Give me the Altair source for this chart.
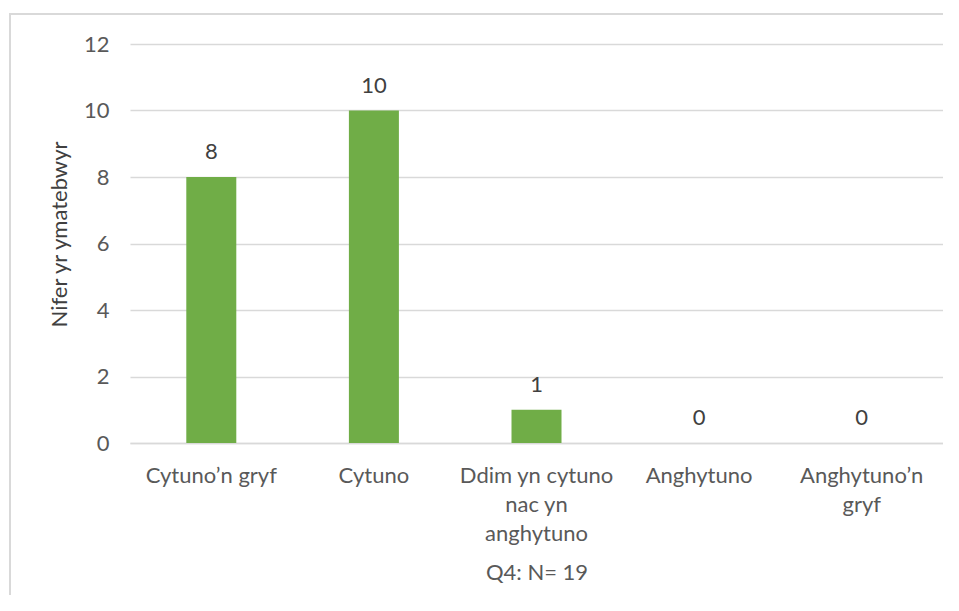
import altair as alt
import pandas as pd

categories = ["Cytuno’n gryf", "Cytuno", "Ddim yn cytuno|nac yn|anghytuno", "Anghytuno", "Anghytuno’n|gryf"]
counts = [8, 10, 1, 0, 0]
y_ticks = [0, 2, 4, 6, 8, 10, 12]
y_title = "Nifer yr ymatebwyr"
x_title = "Q4: N= 19"

df = pd.DataFrame({"cat": categories, "n": counts})

FONT = "Lato"
TXT = "#595959"
FS = 22

x_enc = alt.X("cat:N", sort=categories, title=x_title,
              scale=alt.Scale(paddingInner=0, paddingOuter=0),
              axis=alt.Axis(labelExpr="split(datum.label, '|')", labelAngle=0,
                            labelFont=FONT, labelFontSize=FS, labelColor=TXT,
                            labelLineHeight=29, labelPadding=22, labelBaseline="top",
                            ticks=False, tickSize=0, domainColor="#D9D9D9", domainWidth=1.5,
                            titleFont=FONT, titleFontSize=FS, titleColor=TXT,
                            titleFontWeight="normal", titlePadding=18))

bars = alt.Chart(df).mark_bar(size=50, color="#70AD47").encode(
    x=x_enc,
    y=alt.Y("n:Q", scale=alt.Scale(domain=[0, 12], nice=False), title=y_title,
            axis=alt.Axis(values=y_ticks, domain=False, ticks=False, tickSize=0,
                          labelFont=FONT, labelFontSize=FS, labelColor=TXT, labelPadding=21,
                          gridColor="#D9D9D9", gridWidth=1.5,
                          titleFont=FONT, titleFontSize=FS, titleColor="#404040",
                          titleFontWeight="normal", titlePadding=12, titleY=190)),
)

labels = alt.Chart(df).mark_text(font=FONT, fontSize=FS, color="#404040", baseline="middle", dy=-25).encode(
    x=alt.X("cat:N", sort=categories),
    y="n:Q",
    text="n:Q",
)

frame = pd.DataFrame({"a": [0]})
top_line = alt.Chart(frame).mark_rule(stroke="#D9D9D9", strokeWidth=2, clip=False).encode(
    x=alt.value(-121), x2=alt.value(813), y=alt.value(-30)
)
left_line = alt.Chart(frame).mark_rule(stroke="#D9D9D9", strokeWidth=2, clip=False).encode(
    x=alt.value(-120), y=alt.value(-31), y2=alt.value(551)
)

chart = alt.layer(top_line, left_line, bars, labels).properties(
    width=813, height=399,
    autosize=alt.AutoSizeParams(type="none"),
    padding={"left": 122, "top": 36, "right": 0, "bottom": 152},
).configure_view(stroke=None)

chart.save("out.html", embed_options={"renderer": "svg", "actions": False})
